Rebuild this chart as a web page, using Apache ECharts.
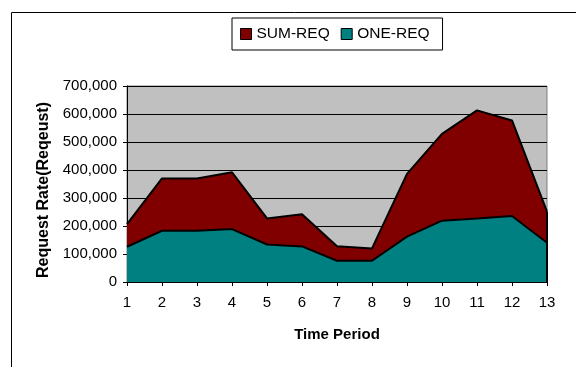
<!DOCTYPE html>
<html><head><meta charset="utf-8">
<script src="https://cdn.jsdelivr.net/npm/echarts@6/dist/echarts.min.js"></script>
<style>html,body{margin:0;padding:0;background:#fff}#c{width:576px;height:367px}</style>
</head><body><div id="c"></div>
<script>
const categories = ['1','2','3','4','5','6','7','8','9','10','11','12','13'];
const sumReq = [207000, 370000, 370000, 392000, 227000, 242000, 128000, 120000, 386000, 529000, 613000, 577000, 251000];
const oneReq = [126000, 183000, 183000, 189000, 134000, 127000, 76000, 76000, 162000, 219000, 227000, 236000, 140000];
const yTicks = [0, 100000, 200000, 300000, 400000, 500000, 600000, 700000];

const chart = echarts.init(document.getElementById('c'), null, {renderer:'canvas'});
const font = 'Liberation Sans, Arial, sans-serif';
const lastCat = categories[categories.length - 1];
chart.setOption({
  animation:false,
  backgroundColor:'#fff',
  graphic:[{type:'rect', shape:{x:11.5,y:12.5,width:700,height:500}, style:{fill:null, stroke:'#000', lineWidth:1}, z:-1}],
  legend:{
    data:['SUM-REQ','ONE-REQ'], left:232, top:18,
    padding:[8,13,8,8], borderColor:'#000', borderWidth:1,
    itemWidth:11, itemHeight:11, itemGap:11, icon:'rect',
    textStyle:{fontFamily:font, fontSize:15.5, lineHeight:16, color:'#000'},
    itemStyle:{borderColor:'#000', borderWidth:1}
  },
  grid:{left:127, top:86, right:29, bottom:85, show:true, backgroundColor:'#c0c0c0', borderColor:'#808080', borderWidth:1},
  xAxis:{
    type:'category', data:categories, boundaryGap:false,
    name:'Time Period', nameLocation:'middle', nameGap:45,
    nameTextStyle:{fontFamily:font, fontSize:15, fontWeight:'bold', color:'#000'},
    axisLine:{lineStyle:{color:'#000', width:1}},
    axisTick:{inside:false, length:4, lineStyle:{color:'#000'}},
    axisLabel:{fontFamily:font, fontSize:15, color:'#000', margin:13}
  },
  yAxis:{
    type:'value', min:0, max:700000, interval:100000,
    name:'Request Rate(Reqeust)', nameLocation:'middle', nameGap:67,
    nameTextStyle:{fontFamily:font, fontSize:16, fontWeight:'bold', color:'#000', padding:[0,12,0,0]},
    axisLine:{show:true, lineStyle:{color:'#000', width:1}},
    axisTick:{show:true, inside:false, length:4, lineStyle:{color:'#000'}},
    axisLabel:{fontFamily:font, fontSize:15, color:'#000', margin:10,
      formatter:v => yTicks.includes(v) ? v.toLocaleString('en-US') : ''},
    splitLine:{show:true, lineStyle:{color:'#000', width:1}}
  },
  series:[
    {name:'SUM-REQ', type:'line', data:sumReq, symbol:'none', z:2,
     lineStyle:{color:'#000', width:2}, itemStyle:{color:'#800000'},
     areaStyle:{color:'#800000', opacity:1},
     markLine:{silent:true, symbol:'none', label:{show:false},
       lineStyle:{color:'#000', width:2, type:'solid'},
       data:[[{coord:[lastCat, 0]}, {coord:[lastCat, sumReq[sumReq.length-1]]}]]}},
    {name:'ONE-REQ', type:'line', data:oneReq, symbol:'none', z:3,
     lineStyle:{color:'#000', width:2}, itemStyle:{color:'#008080'},
     areaStyle:{color:'#008080', opacity:1}}
  ]
});
</script></body></html>
